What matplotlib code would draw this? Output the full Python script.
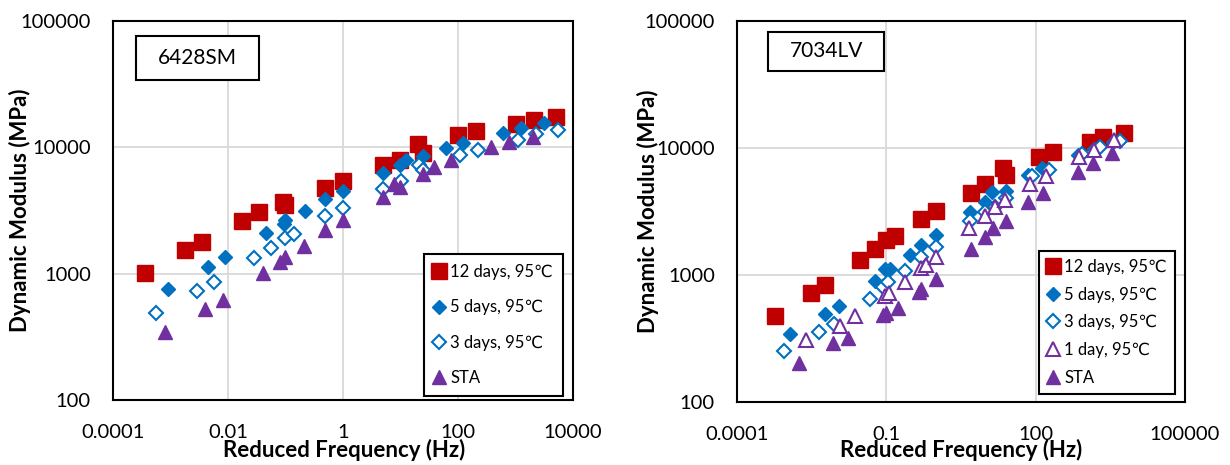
import numpy as np
import matplotlib
matplotlib.use("Agg")
import matplotlib.pyplot as plt
from matplotlib.patches import Rectangle

plt.rcParams['font.family'] = ['Lato', 'DejaVu Sans']

# ---- 6428SM (left panel) ----
sm_12d_f = [3.6e-4, 1.75e-3, 3.5e-3, 0.0175, 0.0352, 0.090, 0.099, 0.49, 1.0, 4.93, 9.6, 20.3, 24.9, 101, 203, 1012, 2066, 5115]
sm_12d_e = [1015, 1535, 1765, 2600, 3050, 3680, 3525, 4775, 5390, 7215, 8000, 10590, 9040, 12470, 13400, 15420, 16380, 17400]
sm_5d_f = [9.1e-4, 4.45e-3, 8.97e-3, 0.0454, 0.093, 0.099, 0.222, 0.49, 1.0, 4.93, 9.9, 12.2, 24.9, 61.7, 122, 598, 1224, 3076]
sm_5d_e = [750, 1120, 1343, 2080, 2465, 2650, 3125, 3885, 4495, 6310, 7215, 7900, 8560, 9960, 10900, 13080, 14250, 15600]
sm_3d_f = [5.65e-4, 2.9e-3, 5.75e-3, 0.0286, 0.0568, 0.097, 0.143, 0.49, 1.0, 4.93, 10.0, 21.3, 24.2, 109, 223, 1095, 2240, 5530]
sm_3d_e = [490, 731, 862, 1335, 1602, 1932, 2055, 2850, 3320, 4690, 5390, 7310, 6590, 8770, 9490, 11520, 12700, 13650]
sm_sta_f = [8.15e-4, 4.0e-3, 8.2e-3, 0.0406, 0.0817, 0.099, 0.206, 0.49, 1.0, 4.93, 7.57, 9.9, 24.9, 38.3, 75.9, 372, 760, 1972]
sm_sta_e = [347, 521, 618, 1004, 1241, 1360, 1660, 2210, 2650, 4055, 5165, 4865, 6125, 7000, 7900, 10080, 11040, 12100]

# ---- 7034LV (right panel) ----
lv_12d_f = [5.83e-4, 3.0e-3, 5.87e-3, 0.0296, 0.0582, 0.1, 0.150, 0.489, 0.975, 5.0, 9.8, 22.3, 25.3, 119, 228, 1217, 2300, 5930]
lv_12d_e = [477, 719, 832, 1315, 1595, 1888, 2043, 2780, 3212, 4448, 5170, 6910, 6120, 8530, 9230, 11200, 12100, 13180]
lv_5d_f = [1.16e-3, 5.87e-3, 0.0113, 0.0582, 0.095, 0.120, 0.294, 0.489, 0.975, 4.83, 9.8, 13.4, 25.3, 68.7, 137, 705, 1460, 3620]
lv_5d_e = [344, 495, 571, 905, 1111, 1111, 1440, 1725, 2066, 3155, 3730, 4475, 4610, 6120, 7000, 8790, 9800, 11200]
lv_3d_f = [8.87e-4, 4.48e-3, 8.93e-3, 0.0459, 0.0867, 0.108, 0.236, 0.489, 0.975, 4.83, 9.8, 14.9, 25.3, 82.5, 187, 845, 1918, 4940]
lv_3d_e = [250, 353, 413, 645, 802, 873, 1085, 1380, 1655, 2663, 3155, 3450, 4015, 6010, 6700, 8950, 10230, 11400]
lv_1d_f = [2.41e-3, 0.0117, 0.0234, 0.095, 0.114, 0.236, 0.489, 0.618, 0.975, 4.6, 9.5, 14.9, 24.3, 76.7, 159, 745, 1460, 3760]
lv_1d_e = [309, 398, 472, 678, 719, 873, 1130, 1202, 1397, 2330, 2930, 3430, 3890, 5200, 6050, 8430, 9620, 11530]
lv_sta_f = [1.74e-3, 8.45e-3, 0.0169, 0.0867, 0.0986, 0.170, 0.446, 0.507, 0.975, 5.0, 9.8, 14.1, 25.3, 70, 142, 705, 1406, 3490]
lv_sta_e = [203, 294, 319, 486, 501, 548, 741, 773, 927, 1595, 1982, 2333, 2680, 3780, 4448, 6500, 7650, 9060]

y_ticks = [100, 1000, 10000, 100000]
left_xticks = [1e-4, 1e-2, 1, 1e2, 1e4]
left_xlabels = ['0.0001', '0.01', '1', '100', '10000']
right_xticks = [1e-4, 1e-1, 1e2, 1e5]
right_xlabels = ['0.0001', '0.1', '100', '100000']

RED = '#C00000'
BLUE = '#0070C0'
PURPLE = '#7030A0'


def style_axes(ax, xticks, xlabels, xlim):
    ax.set_xscale('log')
    ax.set_yscale('log')
    ax.set_xlim(*xlim)
    ax.set_ylim(100, 100000)
    ax.set_xticks(xticks, xlabels)
    ax.set_yticks(y_ticks, [str(v) for v in y_ticks])
    ax.minorticks_off()
    ax.tick_params(length=0, labelsize=14.5)
    ax.tick_params(axis='x', pad=17)
    ax.tick_params(axis='y', pad=16)
    ax.grid(True, color='#D9D9D9', lw=1.3)
    ax.set_axisbelow(True)
    for s in ax.spines.values():
        s.set_linewidth(1.5)
        s.set_color('black')
    ax.set_xlabel('Reduced Frequency (Hz)', fontsize=16, fontweight='bold')
    ax.set_ylabel('Dynamic Modulus (MPa)', fontsize=16, fontweight='bold')
    ax.xaxis.label.set_va('center')
    ax.yaxis.label.set_va('center')


def name_box(ax, x0, y0, w, h, text):
    ax.add_patch(Rectangle((x0, y0), w, h, transform=ax.transAxes, fill=True,
                           facecolor='white', edgecolor='black', lw=1.5, zorder=5))
    ax.text(x0 + w / 2, y0 + h / 2, text, transform=ax.transAxes, ha='center',
            va='center', fontsize=15, zorder=6)


fig = plt.figure(figsize=(12.3, 4.65), dpi=100)
ax1 = fig.add_axes([0.0919, 0.1398, 0.374, 0.815])
ax2 = fig.add_axes([0.5992, 0.1355, 0.3642, 0.8193])

# left
ax1.plot(sm_12d_f, sm_12d_e, 's', color=RED, ms=11, mec=RED, label='12 days, 95℃')
ax1.plot(sm_5d_f, sm_5d_e, 'D', color=BLUE, ms=7.5, mec=BLUE, label='5 days, 95℃')
ax1.plot(sm_3d_f, sm_3d_e, 'D', mfc='white', mec=BLUE, mew=1.5, ms=6.8, label='3 days, 95℃')
ax1.plot(sm_sta_f, sm_sta_e, '^', color=PURPLE, ms=10, mec=PURPLE, label='STA')
style_axes(ax1, left_xticks, left_xlabels, (1e-4, 1e4))
ax1.xaxis.set_label_coords(0.502, -0.132)
ax1.yaxis.set_label_coords(-0.202, 0.5)
name_box(ax1, 0.050, 0.844, 0.267, 0.116, '6428SM')
leg1 = ax1.legend(loc='lower right', bbox_to_anchor=(0.978, 0.011), fontsize=12,
                  frameon=True, fancybox=False, edgecolor='black', framealpha=1,
                  handlelength=0.7, handletextpad=0.3, labelspacing=1.15,
                  borderpad=0.6, borderaxespad=0, numpoints=1)
leg1.get_frame().set_linewidth(1.5)

# right
ax2.plot(lv_12d_f, lv_12d_e, 's', color=RED, ms=11, mec=RED, label='12 days, 95℃')
ax2.plot(lv_5d_f, lv_5d_e, 'D', color=BLUE, ms=7.5, mec=BLUE, label='5 days, 95℃')
ax2.plot(lv_3d_f, lv_3d_e, 'D', mfc='white', mec=BLUE, mew=1.5, ms=6.8, label='3 days, 95℃')
ax2.plot(lv_1d_f, lv_1d_e, '^', mfc='white', mec=PURPLE, mew=1.5, ms=9.5, label='1 day, 95℃')
ax2.plot(lv_sta_f, lv_sta_e, '^', color=PURPLE, ms=10, mec=PURPLE, label='STA')
style_axes(ax2, right_xticks, right_xlabels, (1e-4, 1e5))
ax2.xaxis.set_label_coords(0.5, -0.127)
ax2.yaxis.set_label_coords(-0.199, 0.5)
name_box(ax2, 0.070, 0.869, 0.258, 0.102, '7034LV')
leg2 = ax2.legend(loc='lower right', bbox_to_anchor=(0.978, 0.021), fontsize=12,
                  frameon=True, fancybox=False, edgecolor='black', framealpha=1,
                  handlelength=0.7, handletextpad=0.3, labelspacing=0.7,
                  borderpad=0.5, borderaxespad=0, numpoints=1)
leg2.get_frame().set_linewidth(1.5)

fig.savefig('out.png', dpi=100)
